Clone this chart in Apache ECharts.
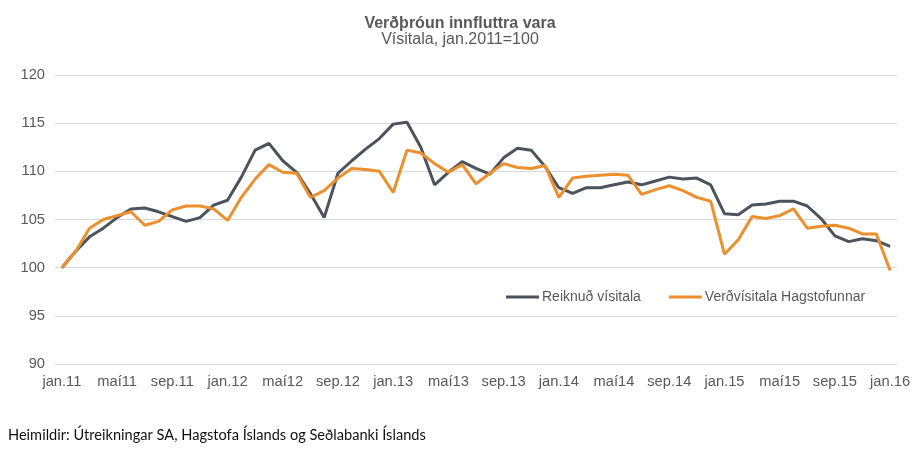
<!DOCTYPE html>
<html>
<head>
<meta charset="utf-8">
<script src="https://cdn.jsdelivr.net/npm/echarts@6/dist/echarts.min.js"></script>
<style>
  html, body { margin: 0; padding: 0; background: #fff; }
  #chart { width: 920px; height: 458px; }
</style>
</head>
<body>
<div id="chart"></div>
<script>
// months jan.11 .. jan.16, label every 4th
const monthNames = ['jan.', 'feb.', 'mar.', 'apr.', 'maí', 'jún.', 'júl.', 'ágú.', 'sep.', 'okt.', 'nóv.', 'des.'];
const categories = [];
for (let y = 11; y <= 16; y++) {
    for (let m = 0; m < 12; m++) {
        if (y === 16 && m > 0) break;
        categories.push(monthNames[m] + y);
    }
}

const reiknud = [
    100.0, 101.7, 103.2, 104.1, 105.2, 106.1, 106.2, 105.8, 105.3, 104.8,
    105.2, 106.5, 107.0, 109.4, 112.2, 112.9, 111.1, 109.9, 107.7, 105.2,
    109.8, 111.1, 112.3, 113.4, 114.9, 115.1, 112.5, 108.6, 109.9, 111.0,
    110.3, 109.7, 111.4, 112.4, 112.2, 110.5, 108.3, 107.7, 108.3, 108.3,
    108.6, 108.9, 108.6, 109.0, 109.4, 109.2, 109.3, 108.6, 105.6, 105.5,
    106.5, 106.6, 106.9, 106.9, 106.4, 105.1, 103.3, 102.7, 103.0, 102.8,
    102.2
];

const hagstofan = [
    100.0, 101.7, 104.1, 105.0, 105.4, 105.8, 104.4, 104.8, 106.0, 106.4,
    106.4, 106.1, 104.9, 107.3, 109.2, 110.7, 109.9, 109.8, 107.3, 108.0,
    109.3, 110.3, 110.2, 110.0, 107.8, 112.2, 111.9, 110.8, 109.9, 110.7,
    108.7, 109.8, 110.8, 110.4, 110.3, 110.6, 107.3, 109.3, 109.5, 109.6,
    109.7, 109.6, 107.6, 108.1, 108.5, 108.0, 107.3, 106.9, 101.4, 102.9,
    105.3, 105.1, 105.4, 106.1, 104.1, 104.3, 104.4, 104.1, 103.5, 103.5,
    99.7
];

const seriesNames = ['Reiknuð vísitala', 'Verðvísitala Hagstofunnar'];
const seriesColors = ['#4b535c', '#ec8f2c'];

const myChart = echarts.init(document.getElementById('chart'));
const option = {
    animation: false,
    backgroundColor: '#fff',
    title: {
        text: 'Verðþróun innfluttra vara',
        subtext: 'Vísitala, jan.2011=100',
        left: 'center',
        top: 11,
        itemGap: 0,
        textStyle: { fontFamily: 'Liberation Sans', fontSize: 16, fontWeight: 'bold', color: '#595959' },
        subtextStyle: { fontFamily: 'Liberation Sans', fontSize: 16, color: '#595959' }
    },
    legend: {
        data: seriesNames,
        left: 501,
        top: 285,
        width: 415,
        orient: 'horizontal',
        itemWidth: 33,
        itemHeight: 3,
        itemGap: 28,
        icon: 'rect',
        textStyle: { fontFamily: 'Liberation Sans', fontSize: 14, color: '#595959', padding: [0, 0, 0, -2] }
    },
    grid: {
        left: 55,
        right: 23,
        top: 75,
        bottom: 94,
        containLabel: false
    },
    xAxis: {
        type: 'category',
        data: categories,
        boundaryGap: true,
        axisLine: { show: false },
        axisTick: { show: false },
        axisLabel: {
            interval: 3,
            margin: 10,
            fontFamily: 'Liberation Sans',
            fontSize: 14.7,
            color: '#595959'
        }
    },
    yAxis: {
        type: 'value',
        min: 90,
        max: 120,
        interval: 5,
        axisLine: { show: false },
        axisTick: { show: false },
        splitLine: { lineStyle: { color: '#d9d9d9', width: 1 } },
        axisLabel: {
            margin: 10,
            fontFamily: 'Liberation Sans',
            fontSize: 14.7,
            color: '#595959'
        }
    },
    series: [
        {
            name: seriesNames[0],
            type: 'line',
            data: reiknud,
            symbol: 'none',
            color: seriesColors[0],
            lineStyle: { width: 3 }
        },
        {
            name: seriesNames[1],
            type: 'line',
            data: hagstofan,
            symbol: 'none',
            color: seriesColors[1],
            lineStyle: { width: 3 }
        }
    ],
    graphic: [{
        type: 'text',
        left: 8,
        top: 428,
        style: {
            text: 'Heimildir: Útreikningar SA, Hagstofa Íslands og Seðlabanki Íslands',
            font: '14.6px Lato, "Open Sans", sans-serif',
            fill: '#111'
        }
    }]
};
myChart.setOption(option);
window.onresize = function () {
    myChart.resize();
};
</script>
</body>
</html>
